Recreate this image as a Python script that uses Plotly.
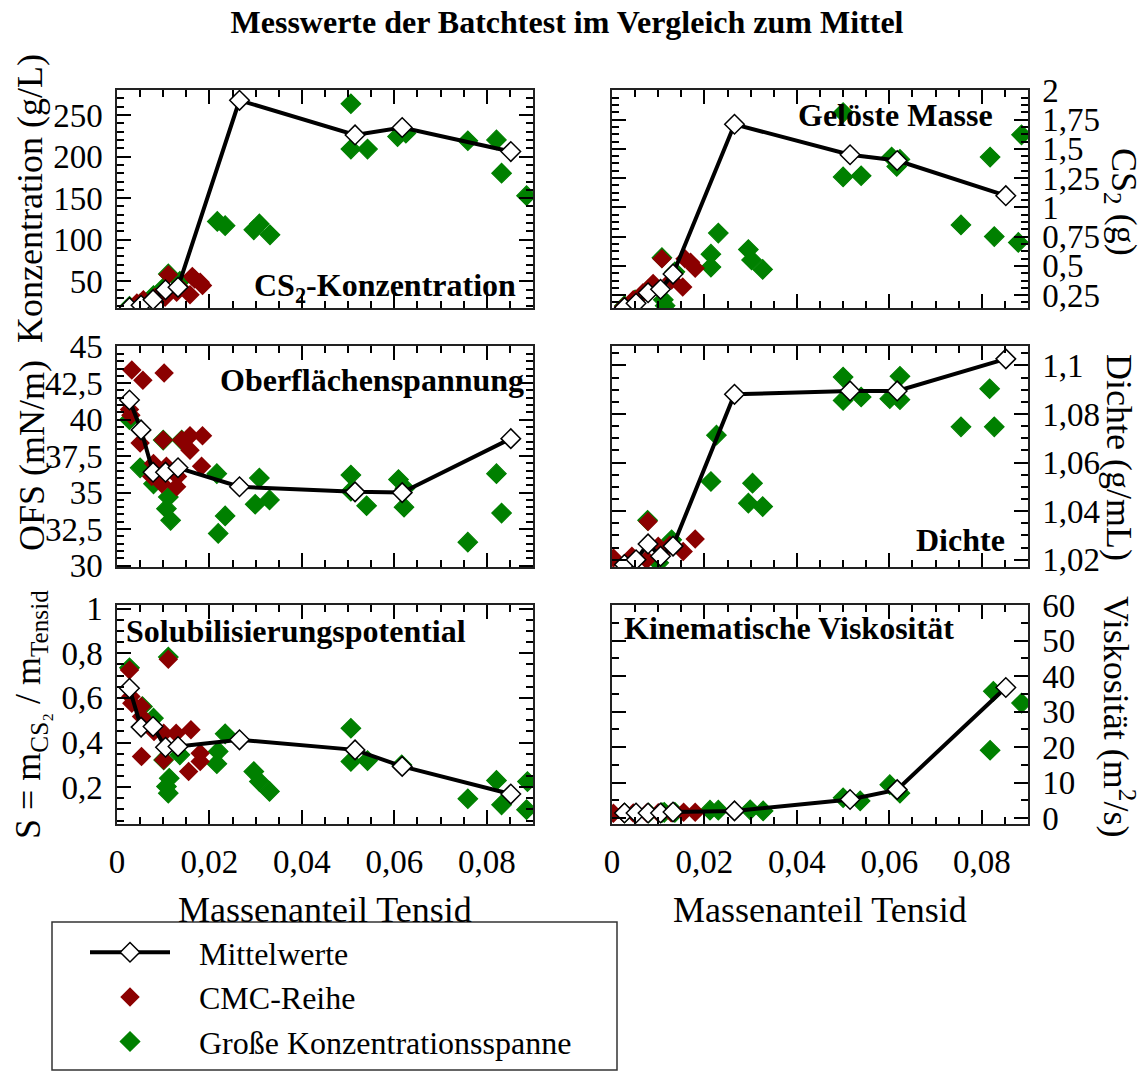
import plotly.graph_objects as go

W, H = 1147, 1072
FONT = "Liberation Serif"
RED = "#8b0000"
GREEN = "#008000"

# ---------------- data ----------------
mean_x = [0.0027, 0.0052, 0.0078, 0.0105, 0.0132, 0.0265, 0.0515, 0.0617, 0.0852]

konz_mean = [18.5, 21.3, 28, 40, 43, 267.6, 226, 235, 206]
konz_cmc_x = [0.0028, 0.0043, 0.0057, 0.0082, 0.0104, 0.0111, 0.0129, 0.0136, 0.0158, 0.0163, 0.0168, 0.0180, 0.0185]
konz_cmc_y = [19, 24, 28, 31, 31, 58, 37, 43, 34, 56, 53, 49, 45]
konz_gross_x = [0.0027, 0.0050, 0.0079, 0.0100, 0.0111, 0.0136, 0.0217, 0.0234, 0.0296, 0.0308, 0.0331,
                0.0506, 0.0506, 0.0542, 0.0607, 0.0625, 0.0759, 0.0821, 0.0832, 0.0886]
konz_gross_y = [20, 23, 33, 42, 59, 50, 122, 117, 112, 119, 106,
                263.5, 209, 209, 224, 228, 219, 220, 180, 153]

masse_mean = [0.145, 0.18, 0.27, 0.30, 0.43, 1.71, 1.45, 1.40, 1.10]
masse_cmc_x = [0.0025, 0.0046, 0.0067, 0.0089, 0.0108, 0.0129, 0.0153, 0.0158, 0.0170, 0.0180]
masse_cmc_y = [0.15, 0.21, 0.27, 0.35, 0.56, 0.38, 0.32, 0.56, 0.53, 0.48]
masse_gross_x = [0.0027, 0.0050, 0.0079, 0.0108, 0.0111, 0.0115, 0.0136, 0.0214, 0.0214, 0.0230, 0.0295,
                 0.0302, 0.0326, 0.0500, 0.0500, 0.0539, 0.0605, 0.0623, 0.0616, 0.0755, 0.0818, 0.0827,
                 0.0879, 0.0886]
masse_gross_y = [0.16, 0.21, 0.30, 0.57, 0.21, 0.16, 0.45, 0.60, 0.49, 0.78, 0.64,
                 0.55, 0.47, 1.81, 1.26, 1.27, 1.43, 1.41, 1.35, 0.85, 1.43, 0.75,
                 0.70, 1.62]

ofs_mean = [41.35, 39.3, 36.4, 36.4, 36.7, 35.4, 35.05, 35.0, 38.7]
ofs_cmc_x = [0.0032, 0.0056, 0.0102, 0.0027, 0.0030, 0.0050, 0.0100, 0.0140, 0.0158, 0.0185, 0.0158,
             0.0183, 0.0079, 0.0107, 0.0097, 0.0129, 0.0131, 0.0075]
ofs_cmc_y = [43.4, 42.7, 43.2, 40.7, 40.3, 38.4, 38.6, 38.6, 38.9, 38.9, 37.9,
             36.8, 37.0, 36.8, 35.6, 35.4, 36.1, 36.1]
ofs_gross_x = [0.0027, 0.0050, 0.0079, 0.0100, 0.0111, 0.0107, 0.0116, 0.0140, 0.0216, 0.0234, 0.0219,
               0.0308, 0.0299, 0.0330, 0.0506, 0.0506, 0.0540, 0.0609, 0.0623, 0.0621, 0.0759, 0.0821,
               0.0832]
ofs_gross_y = [40.0, 36.7, 35.6, 38.6, 34.7, 33.9, 33.1, 38.6, 36.3, 33.4, 32.2,
               36.0, 34.2, 34.5, 36.2, 35.1, 34.1, 35.9, 35.3, 34.0, 31.6, 36.3,
               33.6]

dichte_mean = [1.018, 1.020, 1.0265, 1.0214, 1.0256, 1.0881, 1.0895, 1.0895, 1.1027]
dichte_cmc_x = [0.0003, 0.0043, 0.0078, 0.0075, 0.0100, 0.0125, 0.0154, 0.0180]
dichte_cmc_y = [1.0207, 1.0214, 1.0357, 1.0200, 1.0255, 1.0260, 1.0234, 1.0285]
dichte_gross_x = [0.0027, 0.0077, 0.0101, 0.0129, 0.0214, 0.0226, 0.0295, 0.0304, 0.0326,
                  0.0500, 0.0500, 0.0539, 0.0601, 0.0623, 0.0623, 0.0755, 0.0817, 0.0827]
dichte_gross_y = [1.018, 1.0362, 1.0187, 1.0282, 1.0522, 1.0713, 1.0433, 1.0515, 1.0419,
                  1.0952, 1.0856, 1.0870, 1.0863, 1.0859, 1.0955, 1.0747, 1.0904, 1.0747]

s_mean = [0.643, 0.469, 0.472, 0.379, 0.382, 0.412, 0.367, 0.293, 0.169]
s_cmc_x = [0.0027, 0.0111, 0.0030, 0.0032, 0.0053, 0.0053, 0.0072, 0.0080, 0.0101, 0.0128, 0.0160,
           0.0053, 0.0101, 0.0155, 0.0180, 0.0180]
s_cmc_y = [0.725, 0.773, 0.606, 0.576, 0.561, 0.516, 0.472, 0.449, 0.442, 0.442, 0.457,
           0.337, 0.322, 0.27, 0.352, 0.315]
s_gross_x = [0.0027, 0.0111, 0.0055, 0.0079, 0.0101, 0.0113, 0.0107, 0.0111, 0.0136, 0.0234, 0.0219,
             0.0216, 0.0296, 0.0308, 0.0330, 0.0506, 0.0506, 0.0542, 0.0616, 0.0759, 0.0821, 0.0832,
             0.0888, 0.0886]
s_gross_y = [0.735, 0.783, 0.561, 0.509, 0.322, 0.24, 0.203, 0.173, 0.345, 0.439, 0.36,
             0.305, 0.27, 0.225, 0.181, 0.464, 0.315, 0.319, 0.30, 0.148, 0.23, 0.121,
             0.225, 0.099]

visk_mean = [1.4, 1.4, 1.4, 1.4, 1.7, 2.0, 5.2, 8.0, 36.8]
visk_cmc_x = [0.0003, 0.0025, 0.0046, 0.0075, 0.0100, 0.0128, 0.0155, 0.0180]
visk_cmc_y = [1.3, 1.4, 1.4, 1.4, 1.5, 1.5, 1.6, 1.6]
visk_gross_x = [0.0027, 0.0079, 0.0108, 0.0113, 0.0136, 0.0212, 0.0230, 0.0299, 0.0327,
                0.0500, 0.0537, 0.0601, 0.0623, 0.0818, 0.0825, 0.0886]
visk_gross_y = [1.4, 1.4, 1.5, 1.6, 1.6, 2.2, 2.2, 2.3, 2.0,
                5.7, 4.8, 9.4, 7.0, 19.1, 35.7, 32.4]

x_ticks = [0, 0.02, 0.04, 0.06, 0.08]

# ---------------- layout helpers ----------------
def fx(p):
    return p / W

def fy(p):
    return 1 - p / H

col_dom = {"L": [fx(117), fx(533)], "R": [fx(612), fx(1028)]}
row_dom = {1: [fy(308), fy(90)], 2: [fy(567), fy(346)], 3: [fy(824), fy(605)]}

panels = [
    dict(col="L", row=1, mean=konz_mean, cx=konz_cmc_x, cy=konz_cmc_y, gx=konz_gross_x, gy=konz_gross_y,
         yr=[18, 280], dt=50, t0=0, mn=10),
    dict(col="R", row=1, mean=masse_mean, cx=masse_cmc_x, cy=masse_cmc_y, gx=masse_gross_x, gy=masse_gross_y,
         yr=[0.14, 2.003], dt=0.25, t0=0, mn=0.0625),
    dict(col="L", row=2, mean=ofs_mean, cx=ofs_cmc_x, cy=ofs_cmc_y, gx=ofs_gross_x, gy=ofs_gross_y,
         yr=[29.9, 45.05], dt=2.5, t0=0, mn=0.5),
    dict(col="R", row=2, mean=dichte_mean, cx=dichte_cmc_x, cy=dichte_cmc_y, gx=dichte_gross_x, gy=dichte_gross_y,
         yr=[1.017, 1.108], dt=0.02, t0=1.0, mn=0.005),
    dict(col="L", row=3, mean=s_mean, cx=s_cmc_x, cy=s_cmc_y, gx=s_gross_x, gy=s_gross_y,
         yr=[0.035, 1.016], dt=0.2, t0=0, mn=0.05),
    dict(col="R", row=3, mean=visk_mean, cx=visk_cmc_x, cy=visk_cmc_y, gx=visk_gross_x, gy=visk_gross_y,
         yr=[-1.7, 60.05], dt=10, t0=0, mn=5),
]

fig = go.Figure()
layout = {}
TICKFONT = dict(family=FONT, size=33, color="black")
NB = "\u00a0" * 3

for i, p in enumerate(panels, start=1):
    xa = "x" if i == 1 else f"x{i}"
    ya = "y" if i == 1 else f"y{i}"
    first = i == 1
    fig.add_trace(go.Scatter(
        x=p["gx"], y=p["gy"], mode="markers", name=NB + "Große Konzentrationsspanne",
        legendrank=3, showlegend=first, xaxis=xa, yaxis=ya,
        marker=dict(symbol="diamond", size=15, color=GREEN, line=dict(color=GREEN, width=1.2))))
    fig.add_trace(go.Scatter(
        x=p["cx"], y=p["cy"], mode="markers", name=NB + "CMC-Reihe",
        legendrank=2, showlegend=first, xaxis=xa, yaxis=ya,
        marker=dict(symbol="diamond", size=15, color=RED, line=dict(color=RED, width=0))))
    fig.add_trace(go.Scatter(
        x=mean_x, y=p["mean"], mode="lines+markers", name=NB + "Mittelwerte",
        legendrank=1, showlegend=first, xaxis=xa, yaxis=ya,
        line=dict(color="black", width=4),
        marker=dict(symbol="diamond", size=15, color="white", line=dict(color="black", width=1.5))))

    bottom = p["row"] == 3
    layout["xaxis" if i == 1 else f"xaxis{i}"] = dict(
        domain=col_dom[p["col"]], anchor=ya, range=[0, 0.09], automargin=False,
        tickvals=x_ticks, showticklabels=bottom, tickfont=TICKFONT,
        ticks="inside", ticklen=14, tickwidth=1.5, tickcolor="black",
        minor=dict(dtick=0.005, tick0=0, ticks="inside", ticklen=7, tickwidth=1.5, tickcolor="black"),
        showline=True, linecolor="#222", linewidth=1.5, mirror="allticks",
        showgrid=False, zeroline=False, ticklabelstandoff=8)
    layout["yaxis" if i == 1 else f"yaxis{i}"] = dict(
        domain=row_dom[p["row"]], anchor=xa, range=p["yr"], automargin=False,
        dtick=p["dt"], tick0=p["t0"], tickfont=TICKFONT,
        side="right" if p["col"] == "R" else "left",
        ticks="inside", ticklen=14, tickwidth=1.5, tickcolor="black",
        minor=dict(dtick=p["mn"], tick0=p["t0"], ticks="inside", ticklen=7, tickwidth=1.5, tickcolor="black"),
        showline=True, linecolor="#222", linewidth=1.5, mirror="allticks",
        showgrid=False, zeroline=False, ticklabelstandoff=6)

annotations = []

def ann(text, x, y, size, bold=False, angle=0, xanchor="center", yanchor="middle"):
    annotations.append(dict(
        text=f"<b>{text}</b>" if bold else text, x=fx(x), y=fy(y), xref="paper", yref="paper",
        showarrow=False, textangle=angle, xanchor=xanchor, yanchor=yanchor,
        font=dict(family=FONT, size=size, color="black")))

# panel labels
ann("CS<sub>2</sub>-Konzentration", 518, 287, 32, bold=True, xanchor="right")
ann("Gelöste Masse", 995, 115, 32, bold=True, xanchor="right")
ann("Oberflächenspannung", 526, 380, 32, bold=True, xanchor="right")
ann("Dichte", 1007, 540, 32, bold=True, xanchor="right")
ann("Solubilisierungspotential", 124, 631, 32, bold=True, xanchor="left")
ann("Kinematische Viskosität", 622, 628, 32, bold=True, xanchor="left")

# axis titles
ann("Konzentration (g/L)", 30, 199, 36, angle=-90)
ann("OFS (mN/m)", 32, 456, 36, angle=-90)
ann("S = m<sub>CS₂</sub> / m<sub>Tensid</sub>", 30, 715, 36, angle=-90)
ann("CS<sub>2</sub> (g)", 1122, 202, 36, angle=90)
ann("Dichte (g/mL)", 1119, 457, 36, angle=90)
ann("Viskosität (m<sup>2</sup>/s)", 1119, 716, 36, angle=90)
ann("Massenanteil Tensid", 325, 910, 36)
ann("Massenanteil Tensid", 820, 910, 36)

layout.update(
    width=W, height=H,
    margin=dict(l=0, r=0, t=0, b=0, pad=0),
    paper_bgcolor="white", plot_bgcolor="white",
    separators=",.",
    font=dict(family=FONT, size=32, color="black"),
    title=dict(text="<b>Messwerte der Batchtest im Vergleich zum Mittel</b>",
               x=fx(567), y=fy(22), xanchor="center", yanchor="middle", automargin=False,
               font=dict(family=FONT, size=32, color="black")),
    showlegend=True,
    legend=dict(x=fx(85), y=fy(925), xanchor="left", yanchor="top",
                font=dict(family=FONT, size=32, color="black"),
                bgcolor="rgba(0,0,0,0)", borderwidth=0, itemwidth=80,
                tracegroupgap=0),
    shapes=[dict(type="rect", xref="paper", yref="paper",
                 x0=fx(52), x1=fx(617), y0=fy(1070), y1=fy(922),
                 line=dict(color="#333", width=1.5), fillcolor="rgba(0,0,0,0)")],
    annotations=annotations,
)
fig.update_layout(**layout)

fig.write_html("out.html", config={"displayModeBar": False},
               post_script="document.body.style.margin='0';document.body.style.overflow='hidden';")
